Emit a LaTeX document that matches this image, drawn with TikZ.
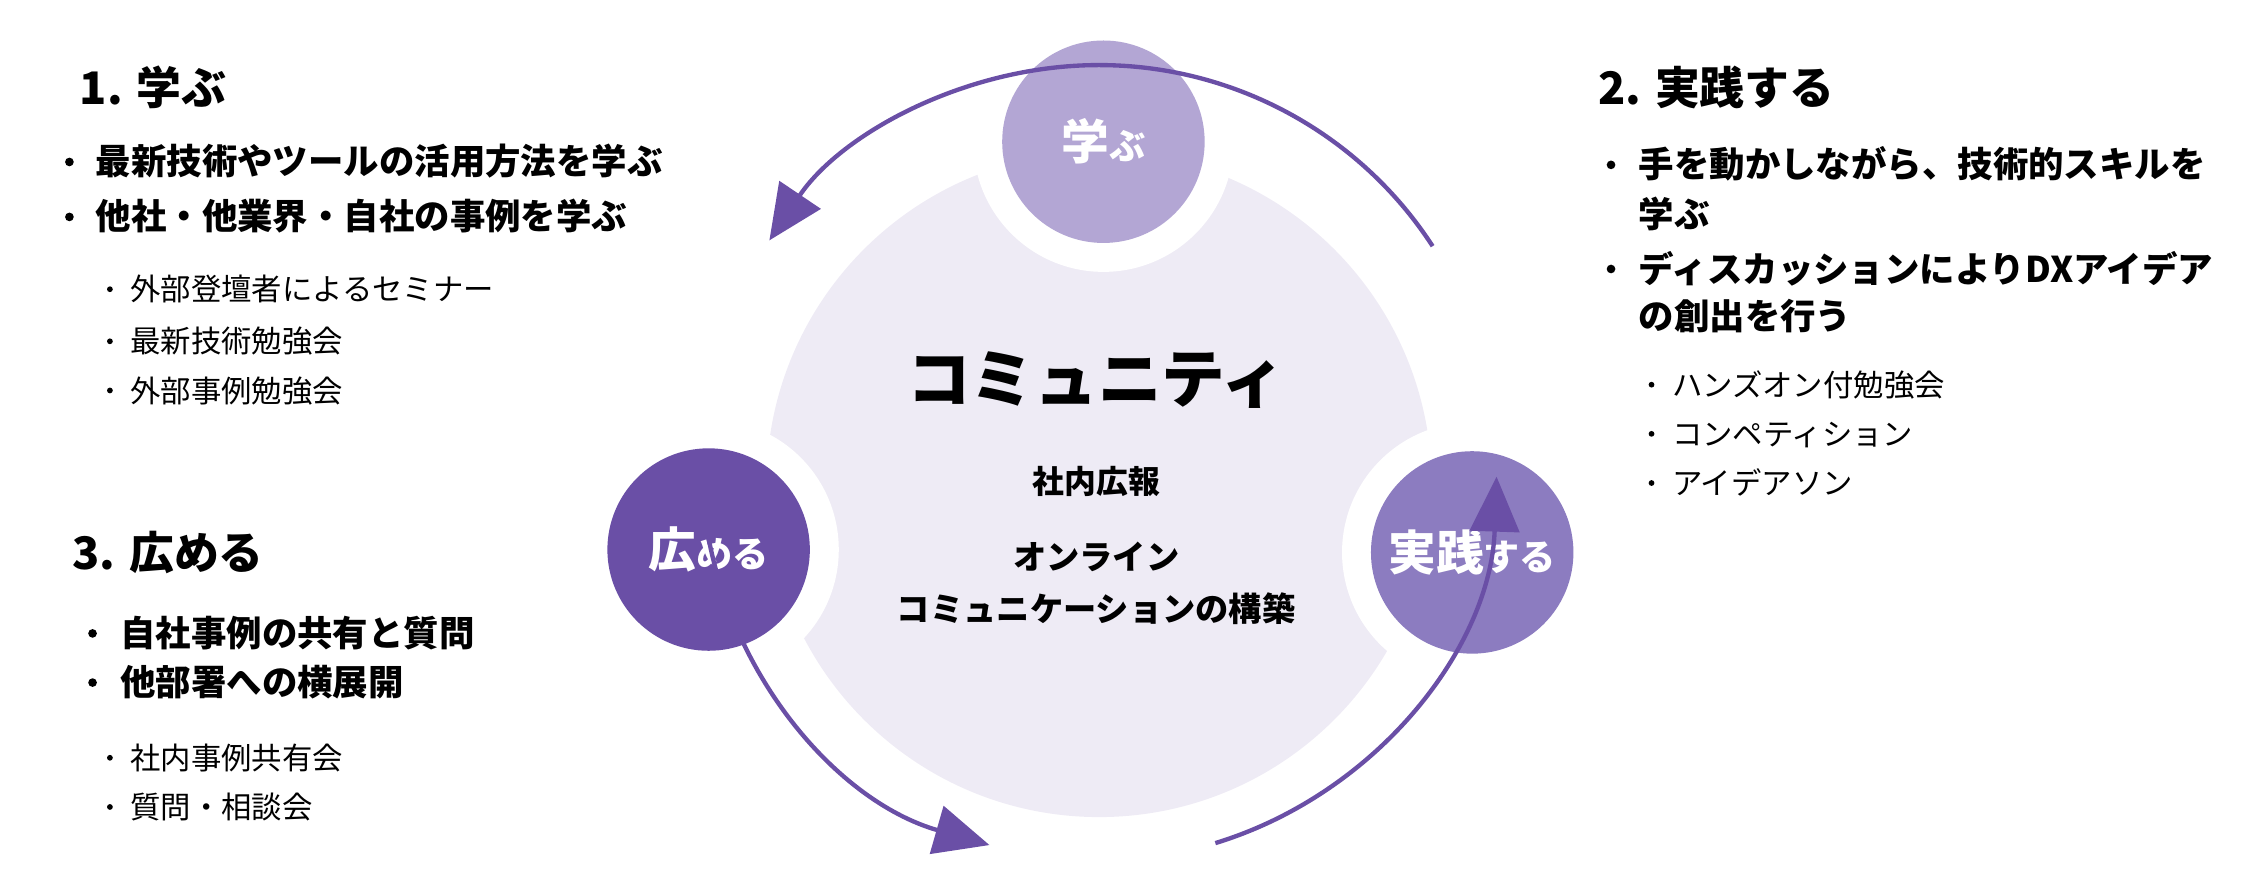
\documentclass[tikz,border=0pt]{standalone}
\usepackage{fontspec}
\setmainfont{Noto Sans CJK JP}
\usetikzlibrary{arrows.meta}
\definecolor{pdark}{HTML}{6A4FA6}
\definecolor{pmid}{HTML}{8C7CC0}
\definecolor{plight}{HTML}{B3A6D4}
\definecolor{pbg}{HTML}{EEEBF5}
\tikzset{
 ttl/.style={anchor=base west,font=\bfseries\fontsize{31}{31}\selectfont,inner sep=0},
 bl/.style={anchor=base west,font=\bfseries\fontsize{24.5}{24.5}\selectfont,inner sep=0},
 sb/.style={anchor=base west,font=\fontsize{21}{21}\selectfont,inner sep=0},
 dotb/.style={circle,fill=black,inner sep=0,minimum size=6pt},
 dots/.style={circle,fill=black,inner sep=0,minimum size=4pt},
 ring/.style={line width=3pt,draw=pdark,-{Triangle[length=38pt,width=34pt]}},
 stage/.style={circle,minimum size=140pt,inner sep=0,text=white,font=\bfseries},
}
\begin{document}
\begin{tikzpicture}[x=1pt,y=-1pt]
\useasboundingbox (0,0) rectangle (1560,615.4);
\coordinate (c) at (760,320);
% background disc
\fill[pbg] (760,335) circle (230pt);
\fill[white] (763,98) circle (90pt);
\fill[white] (1018,382) circle (90pt);
\fill[white] (490,380) circle (90pt);
\node[stage,fill=plight] (learn) at (763,98) {\fontsize{33}{33}\selectfont 学\fontsize{25}{25}\selectfont ぶ};
\node[stage,fill=pmid] (prac) at (1018,382) {\fontsize{33}{33}\selectfont 実践\fontsize{25}{25}\selectfont する};
\node[stage,fill=pdark] (spread) at (490,380) {\fontsize{33}{33}\selectfont 広\fontsize{25}{25}\selectfont める};
% cycle arrows
\draw[ring] (c) ++(174:275) arc (174:106:275);
\draw[ring] (c) ++(73:275) arc (73:2:275);
\draw[ring] (c) ++(-33:275) arc (-33:-146:275);
% center text
\node[font=\bfseries\fontsize{44}{44}\selectfont,anchor=base] (comm) at (758,278) {コミュニティ};
\node[font=\bfseries\fontsize{22}{22}\selectfont,anchor=base] (pr) at (758,341) {社内広報};
\node[font=\bfseries\fontsize{23}{23}\selectfont,anchor=base] (on1) at (758,394) {オンライン};
\node[font=\bfseries\fontsize{23}{23}\selectfont,anchor=base] (on2) at (758,430) {コミュニケーションの構築};
% section 1
\node[ttl] (t1) at (55,72) {1. 学ぶ};
\node[dotb] (d11) at (48,112) {}; \node[bl] (b11) at (66,121) {最新技術やツールの活用方法を学ぶ};
\node[dotb] (d12) at (48,150) {}; \node[bl] (b12) at (66,159) {他社・他業界・自社の事例を学ぶ};
\node[dots] (s11) at (76,200) {}; \node[sb] (u11) at (90,208) {外部登壇者によるセミナー};
\node[dots] (s12) at (76,236) {}; \node[sb] (u12) at (90,244) {最新技術勉強会};
\node[dots] (s13) at (76,270) {}; \node[sb] (u13) at (90,278) {外部事例勉強会};
% section 3
\node[ttl] (t3) at (50,394) {3. 広める};
\node[dotb] (d31) at (64,438) {}; \node[bl] (b31) at (83,447) {自社事例の共有と質問};
\node[dotb] (d32) at (64,472) {}; \node[bl] (b32) at (83,481) {他部署への横展開};
\node[dots] (s31) at (76,524) {}; \node[sb] (u31) at (90,532) {社内事例共有会};
\node[dots] (s32) at (76,558) {}; \node[sb] (u32) at (90,566) {質問・相談会};
% section 2
\node[ttl] (t2) at (1105,72) {2. 実践する};
\node[dotb] (d21) at (1114,114) {}; \node[bl] (b21) at (1133,123) {手を動かしながら、技術的スキルを};
\node[bl] (b21b) at (1133,157) {学ぶ};
\node[dotb] (d22) at (1114,186) {}; \node[bl] (b22) at (1133,195) {ディスカッションによりDXアイデア};
\node[bl] (b22b) at (1133,228) {の創出を行う};
\node[dots] (s21) at (1142,266) {}; \node[sb] (u21) at (1156,274) {ハンズオン付勉強会};
\node[dots] (s22) at (1142,300) {}; \node[sb] (u22) at (1156,308) {コンペティション};
\node[dots] (s23) at (1142,334) {}; \node[sb] (u23) at (1156,342) {アイデアソン};
\end{tikzpicture}
\end{document}
